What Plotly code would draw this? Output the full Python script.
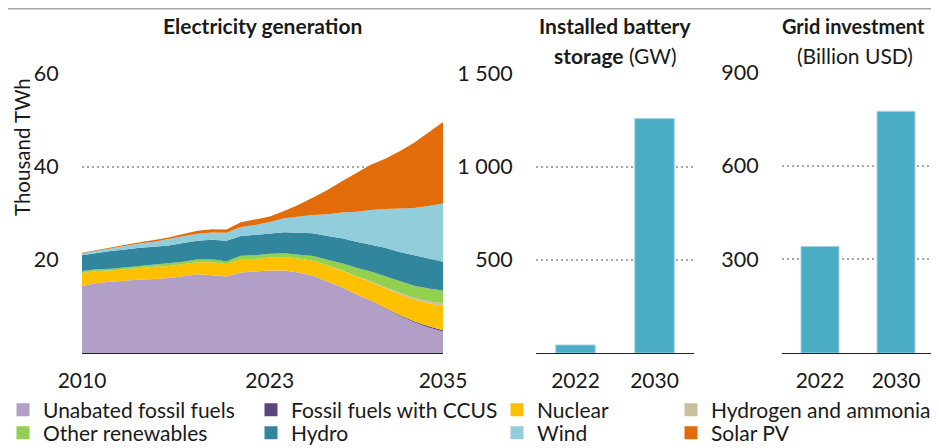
import plotly.graph_objects as go

# ---------------- data ----------------
years = list(range(2010, 2036))

unabated = [14.4, 15.0, 15.3, 15.6, 15.8, 15.9, 16.1, 16.5, 16.9, 16.7, 16.4, 17.3, 17.5,
            17.7, 17.7, 17.3, 16.6, 15.4, 14.1, 12.6, 11.2, 9.6, 8.0, 6.6, 5.5, 4.6]
ccus = [0] * 20 + [0.05, 0.1, 0.15, 0.2, 0.25, 0.3]
nuclear = [2.8, 2.6, 2.4, 2.4, 2.5, 2.6, 2.6, 2.6, 2.6, 2.8, 2.7, 2.8, 2.7,
           2.8, 2.9, 3.0, 3.2, 3.4, 3.6, 3.8, 4.0, 4.2, 4.45, 4.7, 4.95, 5.2]
hydrogen = [0] * 18 + [0.05, 0.1, 0.15, 0.2, 0.3, 0.35, 0.45, 0.5]
other_ren = [0.4, 0.4, 0.4, 0.4, 0.4, 0.4, 0.5, 0.5, 0.6, 0.6, 0.6, 0.8, 0.8,
             0.8, 0.8, 0.8, 1.0, 1.2, 1.5, 1.8, 2.1, 2.4, 2.5, 2.6, 2.7, 2.8]
hydro = [3.4, 3.5, 3.8, 3.8, 3.9, 3.9, 3.9, 4.0, 4.0, 4.2, 4.4, 4.2, 4.4,
         4.3, 4.5, 4.7, 4.9, 5.1, 5.4, 5.6, 5.8, 6.1, 6.3, 6.5, 6.4, 6.2]
wind = [0.4, 0.45, 0.55, 0.75, 0.9, 1.1, 1.3, 1.45, 1.5, 1.55, 1.7, 1.95, 2.1,
        2.5, 3.0, 3.5, 3.9, 4.7, 5.5, 6.4, 7.4, 8.3, 9.3, 10.2, 11.3, 12.5]
solar = [0.1, 0.15, 0.2, 0.2, 0.3, 0.35, 0.4, 0.5, 0.65, 0.7, 0.7, 1.0, 1.1,
         1.2, 1.6, 2.5, 3.8, 5.2, 6.7, 8.3, 9.7, 10.8, 12.3, 14.0, 15.8, 17.5]

series_names = ["Unabated fossil fuels", "Fossil fuels with CCUS", "Nuclear",
                "Hydrogen and ammonia", "Other renewables", "Hydro", "Wind", "Solar PV"]
series_values = [unabated, ccus, nuclear, hydrogen, other_ren, hydro, wind, solar]
series_colors = ["#b19fc8", "#5b4580", "#ffc000", "#c8bf9b",
                 "#92d050", "#31859c", "#92cddc", "#e36c0a"]

gen_ticks = [20, 40, 60]
gen_xticks = [2010, 2023, 2035]

bar_years = ["2022", "2030"]
battery_gw = [43, 1258]
battery_ticks = [500, 1000, 1500]
battery_ticktext = ["500", "1 000", "1 500"]
grid_busd = [341, 774]
grid_ticks = [300, 600, 900]

bar_color = "#4bacc6"

# ---------------- figure ----------------
# the page body adds an 8px margin, so the figure is drawn 8px smaller and
# positions (given in window pixels) are shifted accordingly
OFF = 8
W, H = 939 - OFF, 448 - OFF
FONT = "Lato"
TXT = "#1a1a1a"


def fx(px):
    return (px - OFF) / W


def fy(px):
    return 1 - (px - OFF) / H


fig = go.Figure()

for name, vals, col in zip(series_names, series_values, series_colors):
    fig.add_trace(go.Scatter(
        x=years, y=vals, stackgroup="gen", mode="lines",
        line=dict(width=0, color=col), fillcolor=col,
        name=name, showlegend=False, hoverinfo="skip",
        xaxis="x", yaxis="y"))

# legend: one legend per entry so that the 4x2 grid matches the original spacing
legend_grid = [("Unabated fossil fuels", 3, 410), ("Fossil fuels with CCUS", 251, 410),
               ("Nuclear", 497, 410), ("Hydrogen and ammonia", 671, 410),
               ("Other renewables", 3, 433), ("Hydro", 251, 433),
               ("Wind", 497, 433), ("Solar PV", 671, 433)]
legend_layouts = {}
for i, (n, lx, ly) in enumerate(legend_grid):
    lid = "legend" if i == 0 else f"legend{i + 1}"
    col = series_colors[series_names.index(n)]
    fig.add_trace(go.Scatter(
        x=[None], y=[None], mode="markers", name=n,
        marker=dict(symbol="square", size=13, color=col),
        legend=lid, showlegend=True, hoverinfo="skip", xaxis="x", yaxis="y"))
    legend_layouts[lid] = dict(x=fx(lx), y=fy(ly), xanchor="left", yanchor="middle",
                               orientation="v", bgcolor="rgba(0,0,0,0)", borderwidth=0,
                               font=dict(family=FONT, size=21, color=TXT),
                               traceorder="normal", itemclick=False, itemdoubleclick=False)

bar_line = dict(color="#9fd3e2", width=1)
fig.add_trace(go.Bar(x=bar_years, y=battery_gw, marker=dict(color=bar_color, line=bar_line),
                     width=0.5, showlegend=False, hoverinfo="skip", xaxis="x2", yaxis="y2"))
fig.add_trace(go.Bar(x=bar_years, y=grid_busd, marker=dict(color=bar_color, line=bar_line),
                     width=0.5, showlegend=False, hoverinfo="skip", xaxis="x3", yaxis="y3"))

ydom = [fy(353), fy(73.5)]
ytickfont = dict(family=FONT, size=21.5, color=TXT)
xtickfont = dict(family=FONT, size=21, color=TXT)
grid_style = dict(showgrid=True, gridcolor="#a6a6a6", gridwidth=1.5, griddash="2px,3px",
                  zeroline=False, showline=False, ticks="outside", ticklen=18,
                  tickcolor="rgba(0,0,0,0)", tickfont=ytickfont, automargin=False)
xstyle = dict(showgrid=False, zeroline=False, showline=True, linecolor="#222222", linewidth=1.2,
              ticks="outside", ticklen=9, tickcolor="rgba(0,0,0,0)", tickfont=xtickfont,
              automargin=False)

fig.update_layout(
    width=W, height=H, margin=dict(l=0, r=0, t=0, b=0, autoexpand=False),
    paper_bgcolor="white", plot_bgcolor="white",
    font=dict(family=FONT, color=TXT),
    xaxis=dict(domain=[fx(82), fx(443)], range=[2010, 2035], tickvals=gen_xticks,
               anchor="y", **xstyle),
    yaxis=dict(domain=ydom, range=[0, 60], tickvals=gen_ticks, anchor="x", **grid_style),
    xaxis2=dict(domain=[fx(536), fx(694)], anchor="y2", type="category", **xstyle),
    yaxis2=dict(domain=ydom, range=[0, 1500], tickvals=battery_ticks, ticktext=battery_ticktext,
                anchor="x2", **grid_style),
    xaxis3=dict(domain=[fx(782), fx(934)], anchor="y3", type="category", **xstyle),
    yaxis3=dict(domain=[fy(353), fy(72)], range=[0, 900], tickvals=grid_ticks, anchor="x3", **grid_style),
    bargap=0.5,
    **legend_layouts,
)

annos = [
    dict(text="<b>Electricity generation</b>", x=fx(262), y=fy(26), size=21),
    dict(text="<b>Installed battery</b>", x=fx(615), y=fy(26), size=21),
    dict(text="<b>storage</b> (GW)", x=fx(615), y=fy(55), size=21),
    dict(text="<b>Grid investment</b>", x=fx(853), y=fy(26), size=20),
    dict(text="(Billion USD)", x=fx(855), y=fy(55), size=21),
]
for a in annos:
    sz = a.pop("size")
    fig.add_annotation(xref="paper", yref="paper", showarrow=False, xanchor="center",
                       yanchor="middle", font=dict(family=FONT, size=sz, color=TXT), **a)
fig.add_annotation(xref="paper", yref="paper", showarrow=False, text="Thousand TWh",
                   x=fx(22), y=fy(147), textangle=-90, xanchor="center", yanchor="middle",
                   font=dict(family=FONT, size=20.5, color=TXT))

# thin grey rule along the top edge
fig.add_shape(type="line", xref="paper", yref="paper", x0=0, x1=1, y0=1, y1=1,
              line=dict(color="#a6a6a6", width=3))

fig.write_html("out.html")
